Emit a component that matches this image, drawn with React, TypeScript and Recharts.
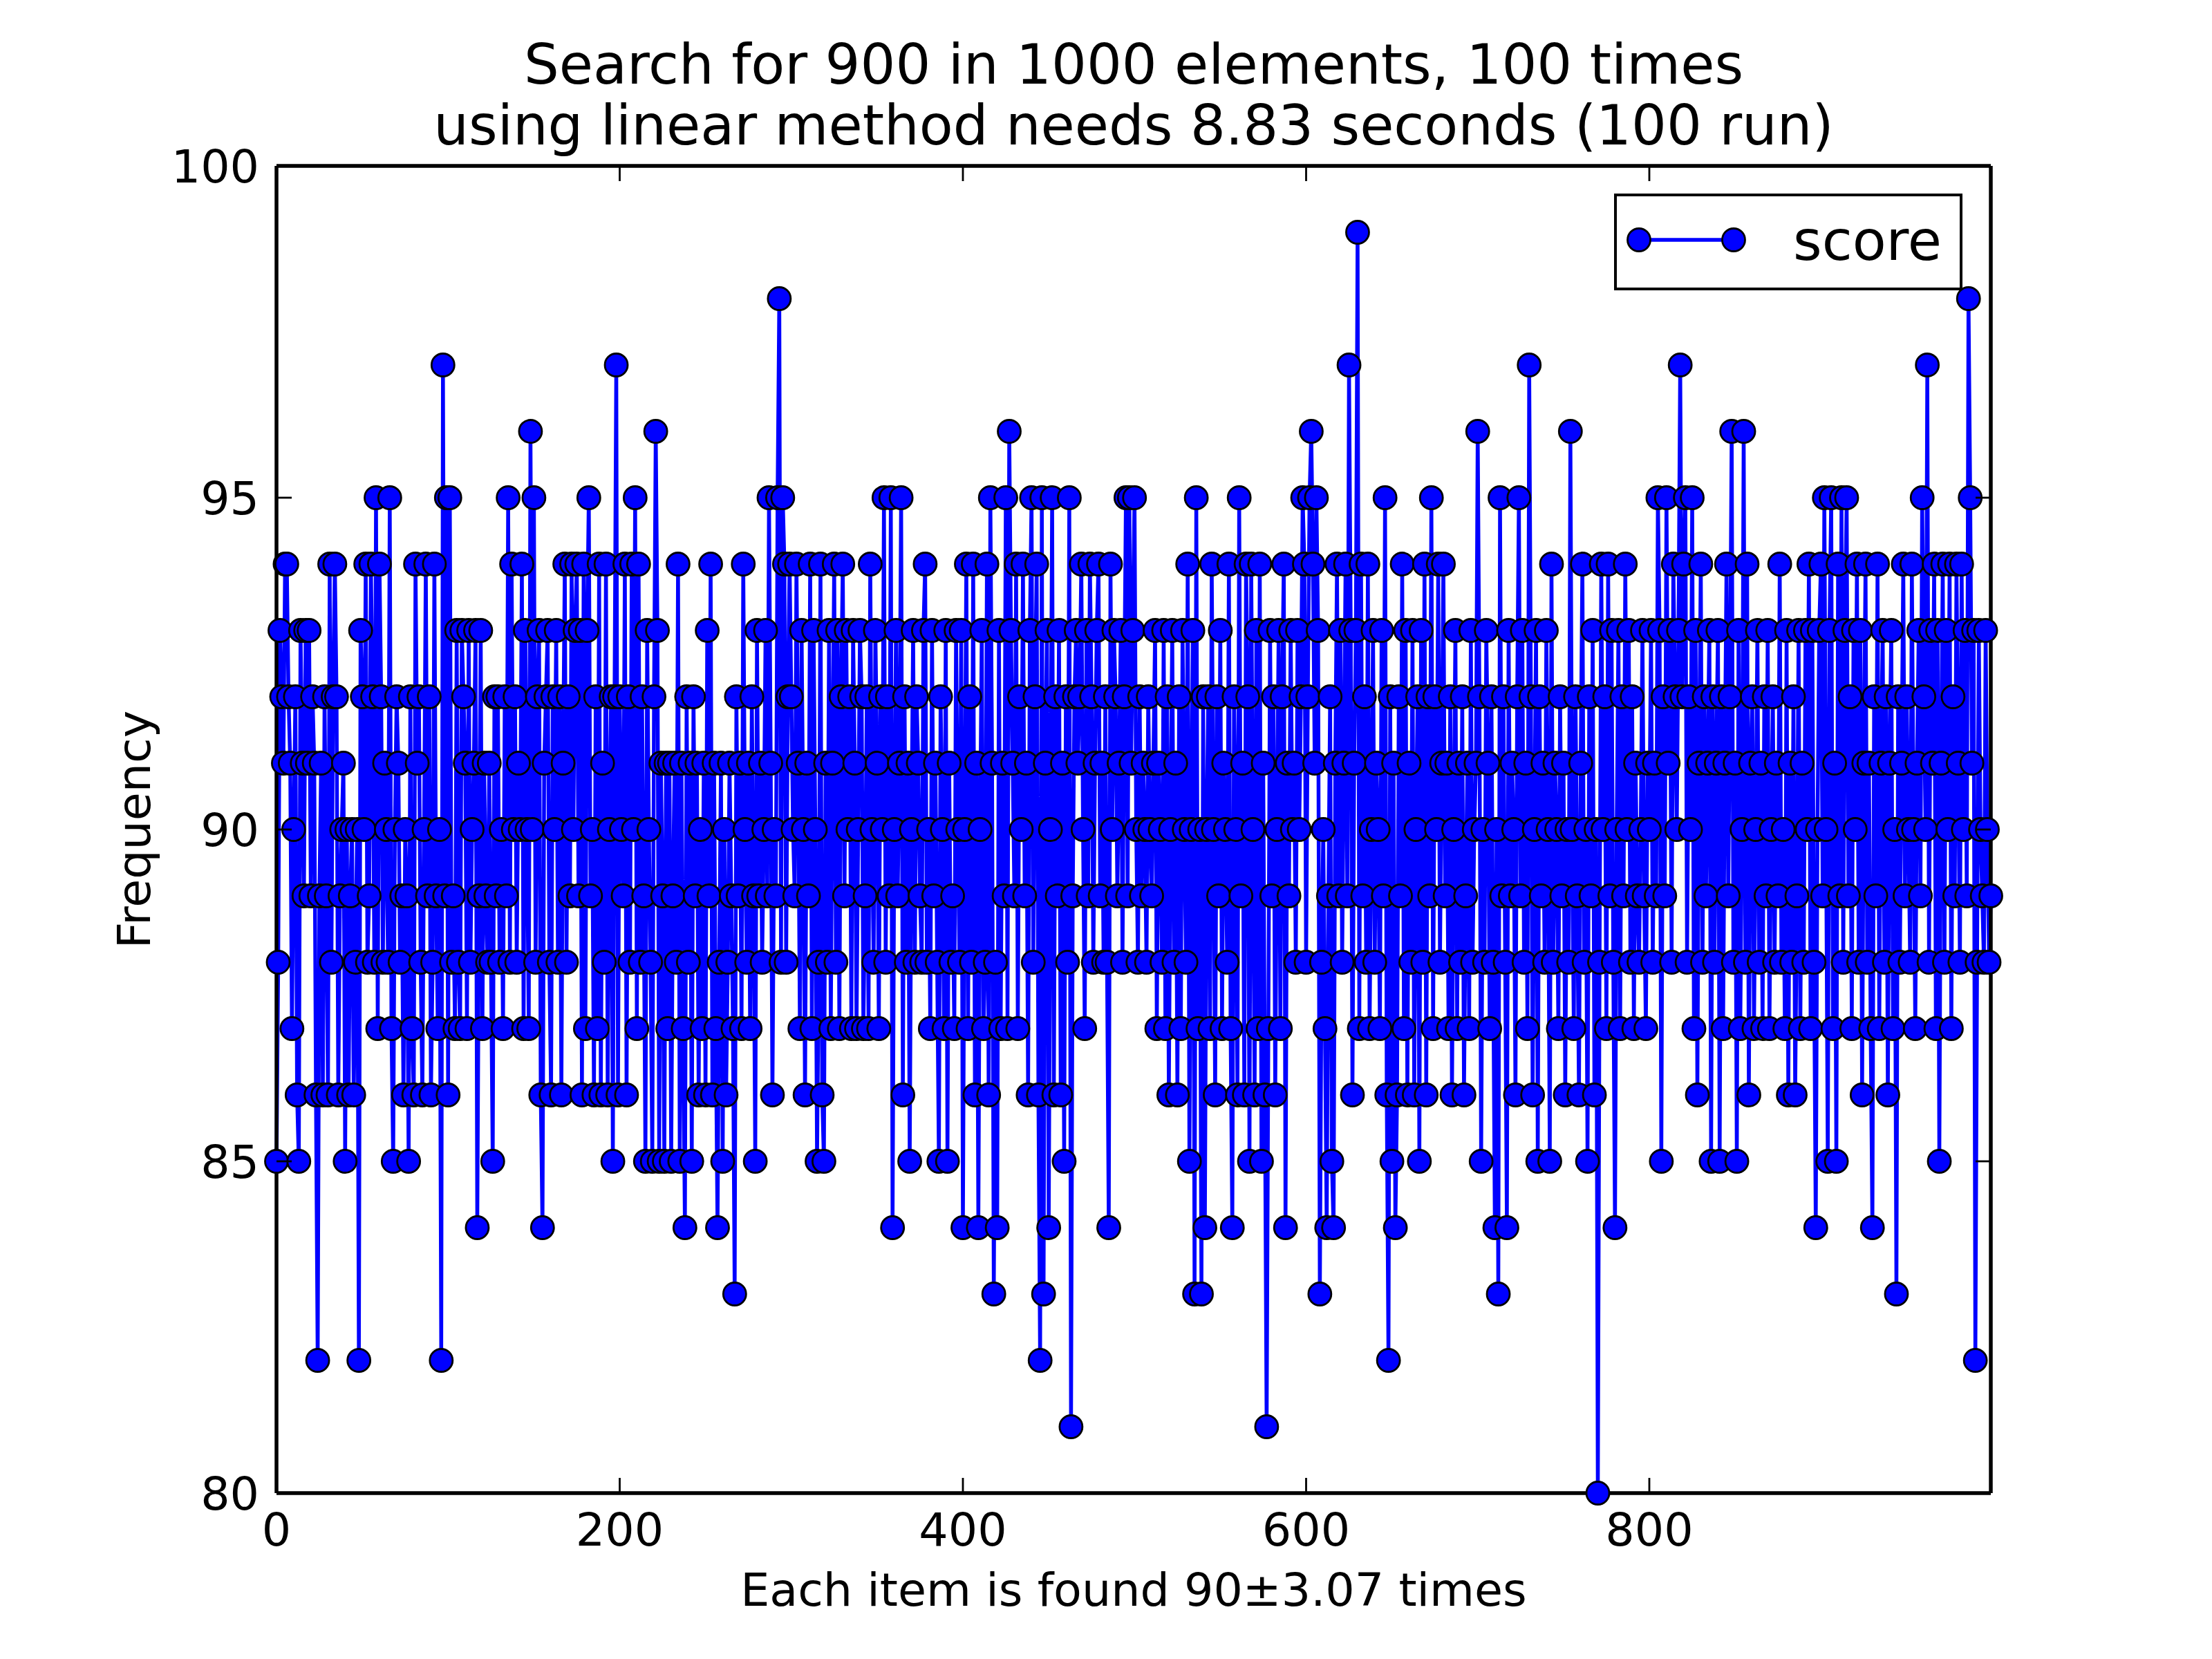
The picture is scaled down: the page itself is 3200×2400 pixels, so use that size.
import { LineChart, Line, XAxis, YAxis, Legend } from 'recharts';

// scores, index 0..999
const scores: number[] = [
  85, 88, 93, 92, 91, 94, 94, 92, 91, 87, 90, 92, 86, 85, 93, 91, 89, 93, 91, 93,
  89, 92, 91, 86, 82, 89, 91, 86, 92, 89, 86, 94, 88, 92, 94, 92, 86, 89, 90, 91,
  85, 90, 86, 89, 90, 86, 88, 90, 82, 93, 92, 90, 94, 88, 89, 94, 92, 88, 95, 87,
  94, 92, 88, 91, 90, 88, 95, 87, 85, 90, 92, 91, 88, 89, 86, 90, 89, 85, 92, 87,
  86, 94, 91, 92, 88, 86, 90, 94, 89, 92, 86, 88, 94, 89, 87, 90, 82, 97, 89, 95,
  86, 95, 88, 89, 87, 93, 88, 87, 93, 92, 91, 87, 93, 88, 90, 91, 93, 84, 89, 93,
  87, 91, 89, 88, 91, 88, 85, 92, 89, 92, 88, 90, 87, 92, 89, 95, 88, 94, 90, 92,
  88, 91, 90, 94, 87, 93, 90, 87, 96, 90, 95, 88, 92, 93, 86, 84, 91, 92, 93, 88,
  86, 92, 90, 93, 88, 92, 86, 91, 94, 88, 92, 89, 94, 90, 93, 94, 89, 93, 86, 94,
  87, 93, 95, 89, 90, 86, 92, 87, 94, 86, 91, 88, 94, 86, 90, 92, 85, 92, 97, 86,
  92, 90, 89, 94, 86, 92, 88, 94, 90, 95, 87, 94, 88, 92, 89, 85, 93, 90, 88, 85,
  92, 96, 93, 85, 91, 89, 85, 91, 87, 91, 85, 89, 91, 88, 94, 85, 91, 87, 84, 92,
  88, 91, 85, 92, 89, 91, 86, 90, 87, 91, 86, 93, 89, 94, 86, 91, 87, 84, 88, 91,
  85, 90, 86, 88, 91, 89, 87, 83, 92, 89, 91, 87, 94, 90, 88, 91, 87, 92, 89, 85,
  93, 89, 91, 88, 90, 93, 89, 95, 91, 86, 90, 89, 95, 98, 88, 95, 94, 88, 92, 94,
  92, 90, 89, 94, 91, 87, 93, 90, 86, 91, 89, 94, 87, 93, 90, 85, 88, 94, 86, 85,
  91, 88, 93, 87, 91, 94, 88, 93, 87, 92, 94, 89, 93, 90, 92, 87, 93, 91, 87, 90,
  93, 92, 87, 89, 92, 87, 94, 90, 88, 93, 91, 87, 92, 90, 95, 88, 92, 89, 95, 84,
  90, 93, 89, 91, 95, 86, 92, 88, 91, 85, 90, 93, 88, 92, 91, 89, 88, 93, 94, 88,
  90, 87, 93, 89, 91, 88, 85, 92, 90, 87, 93, 85, 91, 88, 89, 87, 93, 90, 88, 93,
  84, 90, 94, 87, 92, 88, 94, 86, 91, 84, 90, 93, 87, 88, 94, 86, 95, 91, 83, 88,
  84, 93, 87, 91, 89, 95, 87, 96, 93, 91, 89, 94, 87, 92, 90, 94, 89, 91, 86, 93,
  95, 88, 92, 94, 86, 82, 95, 83, 91, 93, 84, 90, 95, 86, 92, 89, 93, 86, 91, 85,
  92, 88, 95, 81, 89, 92, 93, 91, 92, 94, 90, 87, 93, 89, 94, 92, 88, 91, 93, 94,
  89, 91, 88, 92, 88, 84, 94, 90, 93, 92, 89, 91, 93, 88, 92, 95, 89, 95, 91, 93,
  95, 90, 88, 92, 89, 91, 90, 88, 92, 90, 89, 91, 93, 87, 91, 90, 88, 93, 87, 92,
  86, 90, 93, 88, 91, 86, 92, 87, 93, 90, 88, 94, 85, 90, 93, 83, 95, 87, 90, 83,
  92, 84, 90, 92, 87, 94, 90, 86, 92, 89, 93, 87, 91, 90, 88, 94, 87, 84, 92, 90,
  86, 95, 89, 91, 86, 94, 92, 85, 94, 90, 86, 93, 87, 94, 85, 91, 86, 81, 87, 93,
  89, 92, 86, 90, 93, 87, 92, 94, 84, 91, 89, 93, 90, 91, 88, 93, 90, 92, 95, 94,
  88, 92, 95, 96, 94, 91, 95, 93, 83, 88, 90, 87, 84, 89, 92, 85, 84, 91, 94, 89,
  93, 88, 91, 94, 89, 97, 93, 86, 91, 93, 99, 87, 94, 89, 92, 88, 94, 87, 90, 93,
  88, 91, 90, 87, 93, 89, 95, 86, 82, 92, 85, 91, 84, 86, 92, 89, 94, 87, 93, 86,
  91, 88, 93, 86, 90, 92, 85, 93, 88, 94, 86, 92, 89, 95, 87, 92, 90, 94, 88, 91,
  94, 89, 91, 87, 92, 86, 90, 93, 87, 91, 88, 92, 86, 89, 91, 87, 93, 88, 90, 91,
  96, 92, 85, 90, 88, 93, 91, 87, 92, 88, 84, 90, 83, 95, 89, 92, 88, 84, 93, 89,
  91, 90, 86, 92, 95, 89, 93, 88, 91, 87, 97, 92, 86, 90, 93, 85, 92, 89, 91, 88,
  93, 90, 85, 94, 88, 91, 90, 87, 92, 89, 91, 86, 90, 88, 96, 90, 87, 92, 89, 86,
  91, 94, 88, 90, 85, 92, 89, 93, 86, 90, 80, 88, 94, 90, 92, 87, 94, 89, 93, 88,
  84, 90, 93, 87, 92, 89, 94, 90, 93, 88, 92, 87, 91, 89, 88, 90, 93, 89, 87, 91,
  90, 93, 88, 91, 89, 95, 93, 85, 92, 89, 95, 91, 93, 88, 94, 92, 90, 93, 97, 92,
  94, 95, 88, 92, 90, 95, 87, 93, 86, 91, 94, 88, 92, 89, 91, 93, 85, 92, 88, 91,
  93, 85, 92, 87, 91, 94, 89, 92, 96, 88, 91, 85, 93, 87, 90, 96, 88, 94, 86, 91,
  92, 87, 90, 93, 88, 91, 87, 92, 89, 93, 87, 90, 92, 88, 91, 89, 94, 88, 90, 87,
  93, 86, 91, 88, 92, 86, 89, 93, 87, 91, 88, 93, 90, 94, 87, 93, 88, 84, 90, 93,
  94, 89, 95, 90, 85, 93, 95, 87, 91, 85, 94, 89, 95, 88, 93, 95, 89, 92, 87, 93,
  90, 94, 88, 93, 86, 91, 94, 88, 91, 87, 84, 92, 89, 94, 87, 91, 93, 88, 92, 86,
  91, 93, 87, 90, 83, 92, 88, 91, 94, 89, 92, 90, 88, 94, 90, 87, 91, 93, 89, 95,
  92, 90, 97, 88, 93, 91, 94, 87, 93, 85, 91, 94, 88, 93, 90, 94, 87, 92, 89, 94,
  91, 88, 94, 90, 93, 89, 98, 95, 91, 93, 82, 88, 93, 90, 89, 88, 93, 90, 88, 89,
];

const xTicks = [0, 200, 400, 600, 800];
const yTicks = [80, 85, 90, 95, 100];
const titleLines = [
  'Search for 900 in 1000 elements, 100 times',
  'using linear method needs 8.83 seconds (100 run)',
];
const xLabel = 'Each item is found 90\u00b13.07 times';
const yLabel = 'Frequency';
const seriesName = 'score';

const data = scores.map((score, index) => ({ index, score }));

const W = 3200;
const H = 2400;
const LEFT = 400;
const RIGHT = 2880;
const TOP = 240;
const BOTTOM = 2160;
const FONT = '"DejaVu Sans", sans-serif';
const BLUE = '#0000ff';
const TICK_LEN = 22;

const XTick = (props: any) => {
  const { x, payload } = props;
  return (
    <g>
      <line x1={x} x2={x} y1={BOTTOM} y2={BOTTOM - TICK_LEN} stroke="#000" strokeWidth={2.8} />
      <line x1={x} x2={x} y1={TOP} y2={TOP + TICK_LEN} stroke="#000" strokeWidth={2.8} />
      <text x={x} y={BOTTOM + 76} textAnchor="middle" fontSize={66.7} fontFamily={FONT} fill="#000">
        {payload.value}
      </text>
    </g>
  );
};

const YTick = (props: any) => {
  const { y, payload } = props;
  return (
    <g>
      <line x1={LEFT} x2={LEFT + TICK_LEN} y1={y} y2={y} stroke="#000" strokeWidth={2.8} />
      <line x1={RIGHT} x2={RIGHT - TICK_LEN} y1={y} y2={y} stroke="#000" strokeWidth={2.8} />
      <text x={LEFT - 25} y={y} dy="0.36em" textAnchor="end" fontSize={66.7} fontFamily={FONT} fill="#000">
        {payload.value}
      </text>
    </g>
  );
};

const renderLegend = () => (
  <svg width={504} height={140} style={{ display: 'block' }}>
    <rect x={2} y={2} width={500} height={136} fill="#fff" stroke="#000" strokeWidth={4} />
    <line x1={36} x2={173} y1={67} y2={67} stroke={BLUE} strokeWidth={5.5} />
    <circle cx={36} cy={67} r={16.5} fill={BLUE} stroke="#000" strokeWidth={2.8} />
    <circle cx={173} cy={67} r={16.5} fill={BLUE} stroke="#000" strokeWidth={2.8} />
    <text x={259} y={67} dy="0.36em" fontSize={80} fontFamily={FONT} fill="#000">
      {seriesName}
    </text>
  </svg>
);

export default function App() {
  return (
    <div style={{ position: 'absolute', left: 0, top: 0, width: W, height: H, background: '#fff', fontFamily: FONT }}>
      {titleLines.map((t, i) => (
        <div
          key={i}
          style={{
            position: 'absolute',
            left: LEFT,
            width: RIGHT - LEFT,
            top: 48 + i * 88,
            textAlign: 'center',
            fontSize: 80,
            lineHeight: '92px',
            color: '#000',
            whiteSpace: 'nowrap',
          }}
        >
          {t}
        </div>
      ))}
      <div
        style={{
          position: 'absolute',
          left: LEFT,
          width: RIGHT - LEFT,
          top: 2260,
          textAlign: 'center',
          fontSize: 66.7,
          lineHeight: '80px',
          color: '#000',
        }}
      >
        {xLabel}
      </div>
      <div
        style={{
          position: 'absolute',
          left: 194 - 400,
          top: 1200 - 40,
          width: 800,
          textAlign: 'center',
          fontSize: 66.7,
          lineHeight: '80px',
          color: '#000',
          transform: 'rotate(-90deg)',
        }}
      >
        {yLabel}
      </div>
      <LineChart
        width={W}
        height={H}
        data={data}
        margin={{ top: TOP - 1, right: W - RIGHT - 1, bottom: 80, left: 200 }}
        style={{ position: 'absolute', left: 0, top: 0 }}
      >
        <XAxis
          dataKey="index"
          type="number"
          domain={[0, 999]}
          ticks={xTicks}
          height={160}
          axisLine={{ stroke: '#000', strokeWidth: 5.5 }}
          tickLine={false}
          tick={<XTick />}
          interval={0}
        />
        <XAxis
          xAxisId="top"
          dataKey="index"
          type="number"
          orientation="top"
          domain={[0, 999]}
          height={1}
          axisLine={{ stroke: '#000', strokeWidth: 5.5 }}
          tickLine={false}
          tick={false}
        />
        <YAxis
          type="number"
          domain={[80, 100]}
          ticks={yTicks}
          width={200}
          axisLine={{ stroke: '#000', strokeWidth: 5.5 }}
          tickLine={false}
          tick={<YTick />}
          interval={0}
        />
        <YAxis
          yAxisId="right"
          type="number"
          orientation="right"
          domain={[80, 100]}
          width={1}
          axisLine={{ stroke: '#000', strokeWidth: 5.5 }}
          tickLine={false}
          tick={false}
        />
        <Legend
          layout="horizontal"
          verticalAlign="middle"
          align="center"
          content={renderLegend}
          wrapperStyle={{ position: 'absolute', left: 2335, top: 280, width: 504, height: 140 }}
        />
        <Line
          type="linear"
          dataKey="score"
          name={seriesName}
          stroke={BLUE}
          strokeWidth={5.5}
          dot={{ r: 16.5, fill: BLUE, stroke: '#000', strokeWidth: 2.8 }}
          activeDot={false}
          isAnimationActive={false}
        />
      </LineChart>
    </div>
  );
}
